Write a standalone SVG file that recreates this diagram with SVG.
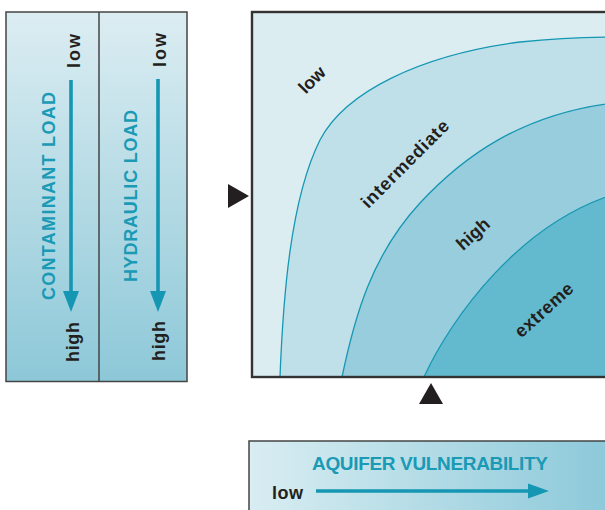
<svg xmlns="http://www.w3.org/2000/svg" width="605" height="510" viewBox="0 0 605 510">
<style>
.lbl{font-family:"Liberation Sans",Arial,sans-serif;font-weight:bold;fill:#231f20}
.ttl{font-family:"Liberation Sans",Arial,sans-serif;font-weight:bold;fill:#1a9ab5}
.curve{fill:none;stroke:#1597b3;stroke-width:1.3}
.arr{stroke:#1597b3;stroke-width:3.6;fill:none}
.head{fill:#1597b3}
.tri{fill:#231f20}
</style>
<defs>
<linearGradient id="gV" x1="0" y1="0" x2="0" y2="1">
<stop offset="0" stop-color="#dcedf2"/>
<stop offset="1" stop-color="#8dc8d8"/>
</linearGradient>
<linearGradient id="gH" x1="0" y1="0" x2="1" y2="0">
<stop offset="0" stop-color="#d9edf2"/>
<stop offset="1" stop-color="#8ac8d9"/>
</linearGradient>
</defs>
<rect width="605" height="510" fill="#ffffff"/>

<g id="load-panel">
<rect x="6" y="12" width="181" height="369.5" fill="url(#gV)" stroke="#444" stroke-width="1.5"/>
<line x1="99" y1="12" x2="99" y2="381.5" stroke="#444" stroke-width="1.5"/>
<text class="lbl" font-size="18" text-anchor="middle" textLength="34" lengthAdjust="spacing" transform="translate(80,51) rotate(-90)">low</text>
<text class="lbl" font-size="18" text-anchor="middle" textLength="40" lengthAdjust="spacing" transform="translate(79,342) rotate(-90)">high</text>
<text class="ttl" font-size="18" text-anchor="middle" textLength="208" lengthAdjust="spacing" transform="translate(55,196) rotate(-90)">CONTAMINANT LOAD</text>
<text class="lbl" font-size="18" text-anchor="middle" textLength="34" lengthAdjust="spacing" transform="translate(166,50) rotate(-90)">low</text>
<text class="lbl" font-size="18" text-anchor="middle" textLength="40" lengthAdjust="spacing" transform="translate(165,341) rotate(-90)">high</text>
<text class="ttl" font-size="18" text-anchor="middle" textLength="172" lengthAdjust="spacing" transform="translate(137,196) rotate(-90)">HYDRAULIC LOAD</text>
</g>

<g id="vulnerability-plot">
<rect x="252" y="12" width="370" height="365" fill="#dcedf2"/>
<path d="M280,377 C283,300 290,200 320,140 C345,92 420,55 520,42 C560,38 590,37 622,37 L622,377 Z" fill="#c0e0e9"/>
<path d="M342,377 C355,315 372,255 420,203 C460,160 520,112 622,102 L622,377 Z" fill="#97cddc"/>
<path d="M424,377 C450,320 520,220 622,192 L622,377 Z" fill="#63bace"/>
<path class="curve" d="M280,377 C283,300 290,200 320,140 C345,92 420,55 520,42 C560,38 590,37 622,37"/>
<path class="curve" d="M342,377 C355,315 372,255 420,203 C460,160 520,112 622,102"/>
<path class="curve" d="M424,377 C450,320 520,220 622,192"/>
<rect x="252" y="12" width="370" height="365" fill="none" stroke="#333" stroke-width="2.4"/>
<text class="lbl" font-size="18" text-anchor="middle" textLength="30" lengthAdjust="spacing" transform="translate(312,80) rotate(-45)" y="6">low</text>
<text class="lbl" font-size="18" text-anchor="middle" textLength="116" lengthAdjust="spacing" transform="translate(405,164) rotate(-45)" y="6">intermediate</text>
<text class="lbl" font-size="18" text-anchor="middle" textLength="38" lengthAdjust="spacing" transform="translate(473,234) rotate(-42)" y="6">high</text>
<text class="lbl" font-size="18" text-anchor="middle" textLength="72" lengthAdjust="spacing" transform="translate(544,310) rotate(-42)" y="6">extreme</text>
<polygon class="tri" points="228,184 228,208 249,196"/>
<polygon class="tri" points="419,404 443,404 431,383"/>
</g>

<g id="aquifer-legend">
<rect x="249" y="441" width="370" height="80" fill="url(#gH)" stroke="#444" stroke-width="1.5"/>
<text class="ttl" font-size="19" x="312" y="470" textLength="236" lengthAdjust="spacing">AQUIFER VULNERABILITY</text>
<text class="lbl" font-size="18" x="272" y="499" textLength="31" lengthAdjust="spacing">low</text>
</g>

<g id="connectors">
<line class="arr" x1="71" y1="80" x2="71" y2="294"/>
<polygon class="head" points="63,291 79,291 71,312"/>
<line class="arr" x1="158" y1="79" x2="158" y2="294"/>
<polygon class="head" points="150,291 166,291 158,312"/>
<line class="arr" x1="316" y1="491" x2="531" y2="491"/>
<polygon class="head" points="528,483.5 549,491 528,498.5"/>
</g>
</svg>
